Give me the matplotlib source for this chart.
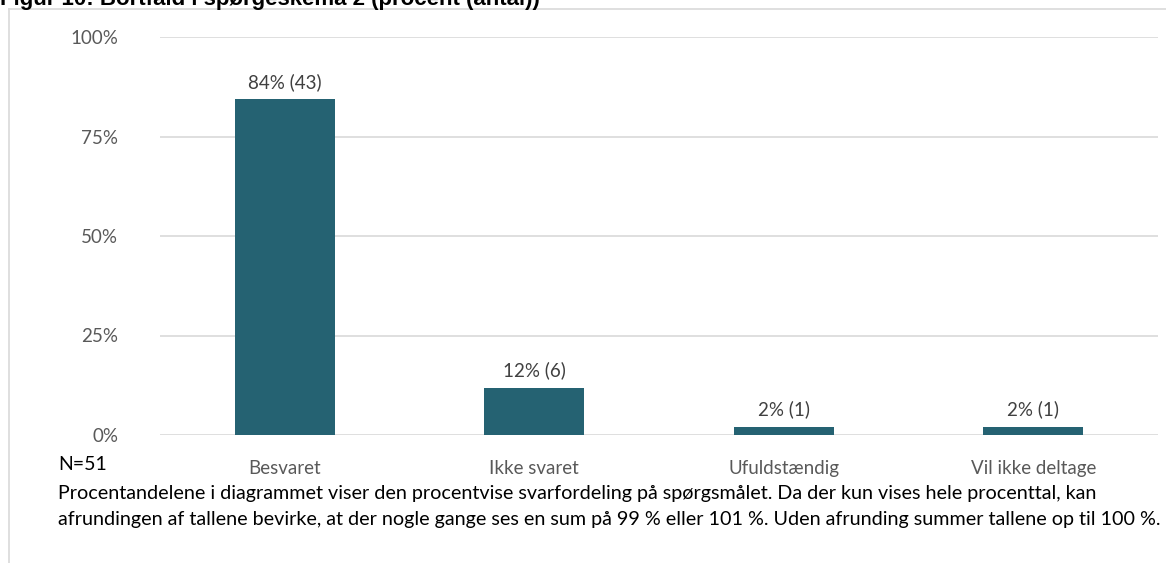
import matplotlib.pyplot as plt
from matplotlib.lines import Line2D
import numpy as np

plt.rcParams['font.family'] = ['Lato', 'DejaVu Sans']

categories = ['Besvaret', 'Ikke svaret', 'Ufuldstændig', 'Vil ikke deltage']
counts = [43, 6, 1, 1]
n_total = 51
pct_labels = ['84%', '12%', '2%', '2%']
yticks = [0, 0.25, 0.5, 0.75, 1.0]
ytick_labels = ['0%', '25%', '50%', '75%', '100%']

shares = np.array(counts) / n_total

fig = plt.figure(figsize=(11.66, 5.63), dpi=100)
W, H = 1166, 563
ax = fig.add_axes([160 / W, 1 - 435 / H, 998 / W, 398 / H])

x = np.arange(len(categories))
ax.bar(x, shares, width=0.4, color='#256272', zorder=3)
for xi, s, p, c in zip(x, shares, pct_labels, counts):
    ax.text(xi, s + 0.022, f'{p} ({c})', ha='center', va='bottom',
            fontsize=13.5, color='#404040')

ax.set_xlim(-0.5, len(categories) - 0.5)
ax.set_ylim(0, 1.0)
ax.set_yticks(yticks)
ax.set_yticklabels(ytick_labels)
ax.set_xticks(x)
ax.set_xticklabels(categories)
ax.tick_params(axis='both', length=0, labelsize=13.5, colors='#595959')
ax.tick_params(axis='y', pad=30)
ax.tick_params(axis='x', pad=18)
ax.yaxis.grid(True, color='#d9d9d9', linewidth=1.2, zorder=0)
ax.set_axisbelow(True)
for sp in ax.spines.values():
    sp.set_visible(False)

# frame lines (top, left)
fig.add_artist(Line2D([9 / W, 1], [1 - 9 / H, 1 - 9 / H], color='#d9d9d9', linewidth=1.2))
fig.add_artist(Line2D([9 / W, 9 / W], [1 - 9 / H, 0], color='#d9d9d9', linewidth=1.2))

# title, cut off by the top edge as in the original
fig.text(0 / W, 1 + 1 / H, 'Figur 10: Bortfald i spørgeskema 2 (procent (antal))',
         family=['Liberation Sans', 'DejaVu Sans'], fontweight='bold',
         fontsize=16, ha='left', va='center', color='black')

fig.text(58 / W, 1 - 465 / H, 'N=51', fontsize=14, ha='left', va='center', color='black')
fig.text(58 / W, 1 - 493 / H,
         'Procentandelene i diagrammet viser den procentvise svarfordeling på spørgsmålet. '
         'Da der kun vises hele procenttal, kan',
         fontsize=14.2, ha='left', va='center', color='black')
fig.text(58 / W, 1 - 519 / H,
         'afrundingen af tallene bevirke, at der nogle gange ses en sum på 99 % eller 101 %. '
         'Uden afrunding summer tallene op til 100 %.',
         fontsize=14.2, ha='left', va='center', color='black')

fig.savefig('out.png', dpi=100)
